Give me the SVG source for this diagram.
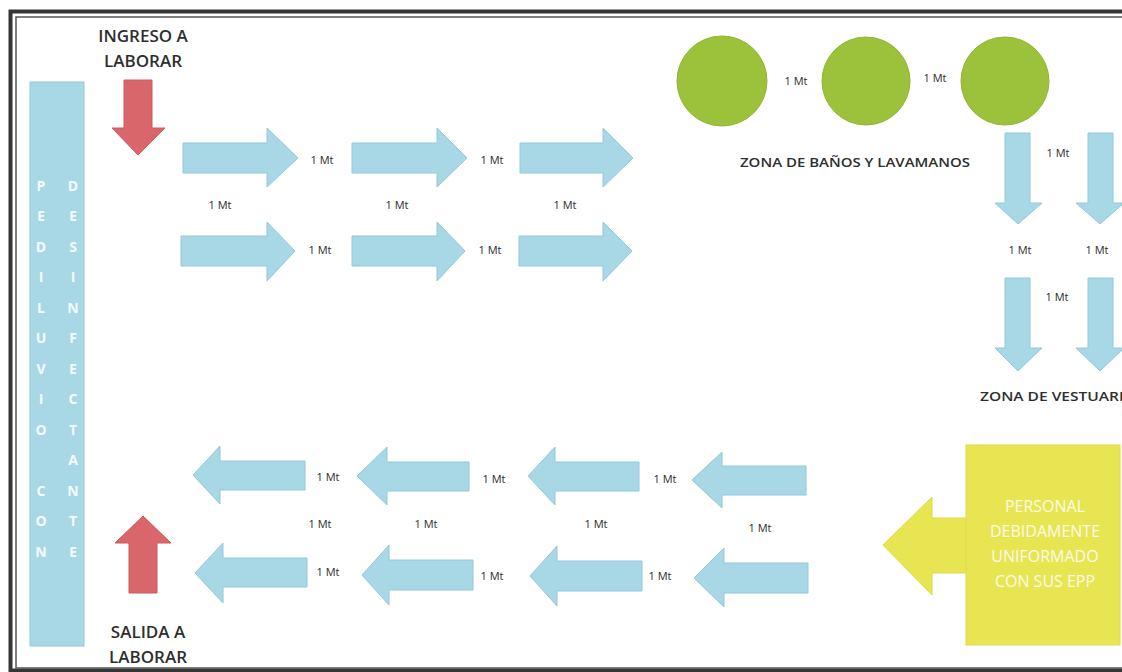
<svg xmlns="http://www.w3.org/2000/svg" width="1122" height="672" viewBox="0 0 1122 672">
<style>
.bl{fill:#a8d8e6;stroke:#93c8da;stroke-width:1}
.rd{fill:#d9666a;stroke:#cc5a5e;stroke-width:1}
.gr{fill:#9cc23c;stroke:#8fb535;stroke-width:1}
.ye{fill:#e8e553;stroke:#dedb48;stroke-width:1}
.mt{font-family:"Open Sans","Liberation Sans",sans-serif;font-size:11px;fill:#2b2b2b;text-anchor:middle}
.hd{font-family:"Open Sans","Liberation Sans",sans-serif;font-size:17px;font-weight:600;fill:#2e2e2e;text-anchor:middle}
.zn{font-family:"Open Sans","Liberation Sans",sans-serif;font-size:12.5px;font-weight:600;fill:#2e2e2e}
.pl{font-family:"Open Sans","Liberation Sans",sans-serif;font-size:14px;font-weight:700;fill:#f4fbfd;text-anchor:middle}
.yt{font-family:"Open Sans","Liberation Sans",sans-serif;font-size:16px;fill:#fbfbe6;text-anchor:middle}
</style>
<rect x="0" y="0" width="1122" height="672" fill="#ffffff"/>
<g id="frame" fill="none">
<rect x="10.5" y="11.5" width="1130" height="659" stroke="#353535" stroke-width="4"/>
<rect x="16" y="17" width="1130" height="651" stroke="#555555" stroke-width="1.5"/>
</g>
<g id="pediluvio">
<rect x="30" y="82" width="54" height="564" class="bl"/>
<g class="pl">
<text x="41" y="191">P</text><text x="41" y="221">E</text><text x="41" y="252">D</text><text x="41" y="282">I</text><text x="41" y="313">L</text><text x="41" y="343">U</text><text x="41" y="374">V</text><text x="41" y="404">I</text><text x="41" y="435">O</text><text x="41" y="496">C</text><text x="41" y="526">O</text><text x="41" y="557">N</text>
<text x="73" y="191">D</text><text x="73" y="221">E</text><text x="73" y="252">S</text><text x="73" y="282">I</text><text x="73" y="313">N</text><text x="73" y="343">F</text><text x="73" y="374">E</text><text x="73" y="404">C</text><text x="73" y="435">T</text><text x="73" y="465">A</text><text x="73" y="496">N</text><text x="73" y="526">T</text><text x="73" y="557">E</text>
</g>
</g>
<g id="ingreso">
<text class="hd" x="143" y="42">INGRESO A</text>
<text class="hd" x="143" y="67">LABORAR</text>
<polygon class="rd" points="124,80 152,80 152,128 165,128 138,155 112,128 124,128"/>
</g>
<g id="salida">
<polygon class="rd" points="129,593 157,593 157,543 171,543 143,516 115,543 129,543"/>
<text class="hd" x="148" y="638">SALIDA A</text>
<text class="hd" x="148" y="663">LABORAR</text>
</g>
<g id="banos">
<circle class="gr" cx="722" cy="81" r="45"/>
<circle class="gr" cx="866" cy="81" r="44"/>
<circle class="gr" cx="1005" cy="81" r="44"/>
<text class="zn" x="740" y="167" textLength="230" lengthAdjust="spacingAndGlyphs">ZONA DE BAÑOS Y LAVAMANOS</text>
</g>
<g id="vestuario">
<text class="zn" x="980" y="401" textLength="156" lengthAdjust="spacingAndGlyphs">ZONA DE VESTUARIO</text>
</g>
<g id="personal">
<rect class="ye" x="966" y="445" width="154" height="200"/>
<polygon class="ye" points="966,518 932,518 932,497 883,545 932,595 932,573 966,573"/>
<g class="yt">
<text x="1045" y="512">PERSONAL</text>
<text x="1045" y="537">DEBIDAMENTE</text>
<text x="1045" y="562">UNIFORMADO</text>
<text x="1045" y="587">CON SUS EPP</text>
</g>
</g>
<g id="connectors">
<polygon class="bl" points="183,143 267,143 267,128 298,158 267,187 267,173 183,173"/>
<polygon class="bl" points="352,143 437,143 437,128 467,158 437,187 437,173 352,173"/>
<polygon class="bl" points="520,143 603,143 603,128 633,158 603,187 603,173 520,173"/>
<polygon class="bl" points="181,236 267,236 267,222 295,251 267,281 267,266 181,266"/>
<polygon class="bl" points="352,236 437,236 437,222 465,251 437,281 437,266 352,266"/>
<polygon class="bl" points="519,236 603,236 603,222 632,251 603,281 603,266 519,266"/>
<polygon class="bl" points="1005,133 1030,133 1030,203 1042,203 1018,224 995,203 1005,203"/>
<polygon class="bl" points="1088,133 1113,133 1113,203 1124,203 1100,224 1076,203 1088,203"/>
<polygon class="bl" points="1005,278 1030,278 1030,348 1042,348 1018,371 995,348 1005,348"/>
<polygon class="bl" points="1088,278 1113,278 1113,348 1124,348 1100,371 1076,348 1088,348"/>
<polygon class="bl" points="305,461 220,461 220,446 193,475 220,504 220,490 305,490"/>
<polygon class="bl" points="469,462 387,462 387,447 357,476 387,505 387,491 469,491"/>
<polygon class="bl" points="639,462 555,462 555,447 528,476 555,505 555,491 639,491"/>
<polygon class="bl" points="806,466 722,466 722,452 692,480 722,508 722,495 806,495"/>
<polygon class="bl" points="307,558 223,558 223,543 195,573 223,603 223,587 307,587"/>
<polygon class="bl" points="473,560 389,560 389,545 362,575 389,605 389,590 473,590"/>
<polygon class="bl" points="642,561 557,561 557,546 530,576 557,606 557,591 642,591"/>
<polygon class="bl" points="808,563 724,563 724,548 694,578 724,607 724,593 808,593"/>
</g>
<g id="labels" class="mt">
<text x="322" y="164">1 Mt</text><text x="492" y="164">1 Mt</text>
<text x="220" y="209">1 Mt</text><text x="397" y="209">1 Mt</text><text x="565" y="209">1 Mt</text>
<text x="320" y="254">1 Mt</text><text x="490" y="254">1 Mt</text>
<text x="796" y="85">1 Mt</text><text x="935" y="82">1 Mt</text>
<text x="1058" y="157">1 Mt</text>
<text x="1020" y="254">1 Mt</text><text x="1097" y="254">1 Mt</text>
<text x="1057" y="301">1 Mt</text>
<text x="328" y="481">1 Mt</text><text x="494" y="483">1 Mt</text><text x="665" y="483">1 Mt</text>
<text x="320" y="528">1 Mt</text><text x="426" y="528">1 Mt</text><text x="596" y="528">1 Mt</text><text x="760" y="532">1 Mt</text>
<text x="328" y="576">1 Mt</text><text x="492" y="580">1 Mt</text><text x="660" y="580">1 Mt</text>
</g>
</svg>
